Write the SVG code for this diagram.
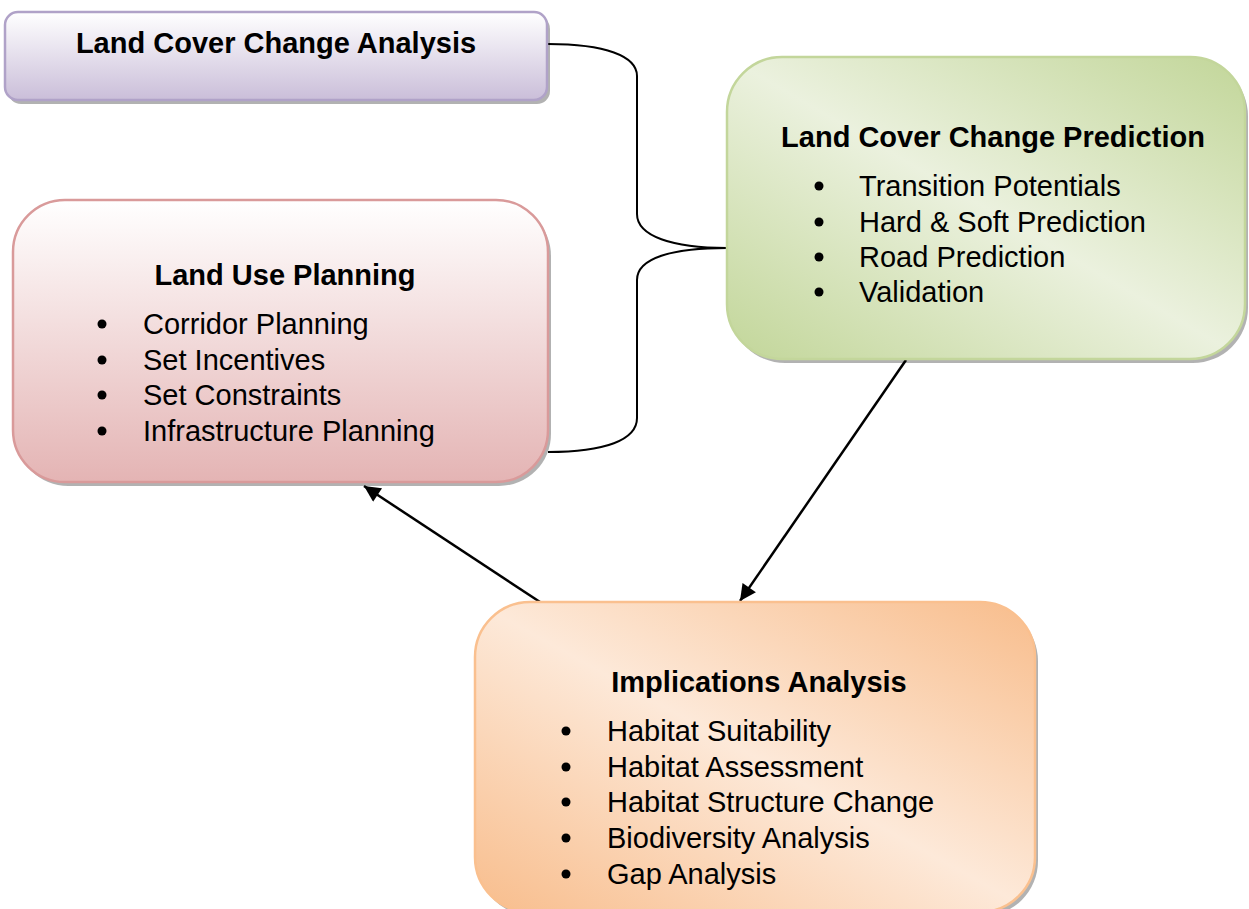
<svg xmlns="http://www.w3.org/2000/svg" width="1249" height="909" viewBox="0 0 1249 909">
  <defs>
    <linearGradient id="gPurple" x1="0" y1="0" x2="0" y2="1">
      <stop offset="0" stop-color="#ffffff"/>
      <stop offset="1" stop-color="#cabed9"/>
    </linearGradient>
    <linearGradient id="gRed" x1="0" y1="0" x2="0" y2="1">
      <stop offset="0" stop-color="#ffffff"/>
      <stop offset="1" stop-color="#e4b4b4"/>
    </linearGradient>
    <linearGradient id="gGreen" x1="1" y1="0" x2="0" y2="1">
      <stop offset="0" stop-color="#c2d699"/>
      <stop offset="0.5" stop-color="#ebf1de"/>
      <stop offset="1" stop-color="#c2d699"/>
    </linearGradient>
    <linearGradient id="gOrange" x1="1" y1="0" x2="0" y2="1">
      <stop offset="0" stop-color="#f8bd8c"/>
      <stop offset="0.5" stop-color="#fde9d9"/>
      <stop offset="1" stop-color="#f8bd8c"/>
    </linearGradient>
    <marker id="arrow" viewBox="0 0 10 10" refX="10" refY="5" markerWidth="8" markerHeight="6.5" markerUnits="strokeWidth" orient="auto">
      <path d="M0,0 L10,5 L0,10 z" fill="#000"/>
    </marker>
  </defs>
  <style>
    .title { font-family: "Liberation Sans", Arial, sans-serif; font-size: 29px; font-weight: bold; fill: #000; text-anchor: middle; }
    .item { font-family: "Liberation Sans", Arial, sans-serif; font-size: 29px; fill: #000; }
    .dot { fill: #000; }
    .shadow { fill: #000; opacity: 0.3; }
    .edge { fill: none; stroke: #000; stroke-width: 2.5; }
    .brace { fill: none; stroke: #000; stroke-width: 2; }
  </style>

  <rect width="1249" height="909" fill="#ffffff"/>

  <!-- connectors -->
  <g id="connectors">
    <path class="brace" d="M548,44 C605,44 637,56 637,76 L637,214 C637,236 672,248 727,248"/>
    <path class="brace" d="M727,248 C672,248 637,258 637,280 L637,418 C637,440 605,452 548,452"/>
    <line class="edge" x1="906" y1="360" x2="740" y2="601" marker-end="url(#arrow)"/>
    <line class="edge" x1="540" y1="602" x2="364" y2="486" marker-end="url(#arrow)"/>
  </g>

  <!-- Land Cover Change Analysis -->
  <g id="node-analysis">
    <rect class="shadow" x="8" y="16" width="542" height="88" rx="13"/>
    <rect x="5" y="12" width="542" height="88" rx="13" fill="url(#gPurple)" stroke="#b0a2c8" stroke-width="2.5"/>
    <text class="title" x="276" y="53">Land Cover Change Analysis</text>
  </g>

  <!-- Land Use Planning -->
  <g id="node-planning">
    <rect class="shadow" x="16" y="204" width="535" height="282" rx="52"/>
    <rect x="13" y="200" width="535" height="282" rx="52" fill="url(#gRed)" stroke="#d99a9a" stroke-width="2.5"/>
    <text class="title" x="285" y="285">Land Use Planning</text>
    <circle class="dot" cx="102" cy="324" r="4.5"/>
    <text class="item" x="143" y="334">Corridor Planning</text>
    <circle class="dot" cx="102" cy="360" r="4.5"/>
    <text class="item" x="143" y="370">Set Incentives</text>
    <circle class="dot" cx="102" cy="395" r="4.5"/>
    <text class="item" x="143" y="405">Set Constraints</text>
    <circle class="dot" cx="102" cy="431" r="4.5"/>
    <text class="item" x="143" y="441">Infrastructure Planning</text>
  </g>

  <!-- Land Cover Change Prediction -->
  <g id="node-prediction">
    <rect class="shadow" x="730" y="61" width="518" height="302" rx="55"/>
    <rect x="727" y="57" width="518" height="302" rx="55" fill="url(#gGreen)" stroke="#c3d69b" stroke-width="2.5"/>
    <text class="title" x="993" y="147">Land Cover Change Prediction</text>
    <circle class="dot" cx="819" cy="186" r="4.5"/>
    <text class="item" x="859" y="196">Transition Potentials</text>
    <circle class="dot" cx="819" cy="222" r="4.5"/>
    <text class="item" x="859" y="232">Hard &amp; Soft Prediction</text>
    <circle class="dot" cx="819" cy="257" r="4.5"/>
    <text class="item" x="859" y="267">Road Prediction</text>
    <circle class="dot" cx="819" cy="292" r="4.5"/>
    <text class="item" x="859" y="302">Validation</text>
  </g>

  <!-- Implications Analysis -->
  <g id="node-implications">
    <rect class="shadow" x="478" y="606" width="560" height="310" rx="55"/>
    <rect x="475" y="602" width="560" height="310" rx="55" fill="url(#gOrange)" stroke="#fac08f" stroke-width="2.5"/>
    <text class="title" x="759" y="692">Implications Analysis</text>
    <circle class="dot" cx="566" cy="731" r="4.5"/>
    <text class="item" x="607" y="741">Habitat Suitability</text>
    <circle class="dot" cx="566" cy="767" r="4.5"/>
    <text class="item" x="607" y="777">Habitat Assessment</text>
    <circle class="dot" cx="566" cy="802" r="4.5"/>
    <text class="item" x="607" y="812">Habitat Structure Change</text>
    <circle class="dot" cx="566" cy="838" r="4.5"/>
    <text class="item" x="607" y="848">Biodiversity Analysis</text>
    <circle class="dot" cx="566" cy="874" r="4.5"/>
    <text class="item" x="607" y="884">Gap Analysis</text>
  </g>
</svg>
